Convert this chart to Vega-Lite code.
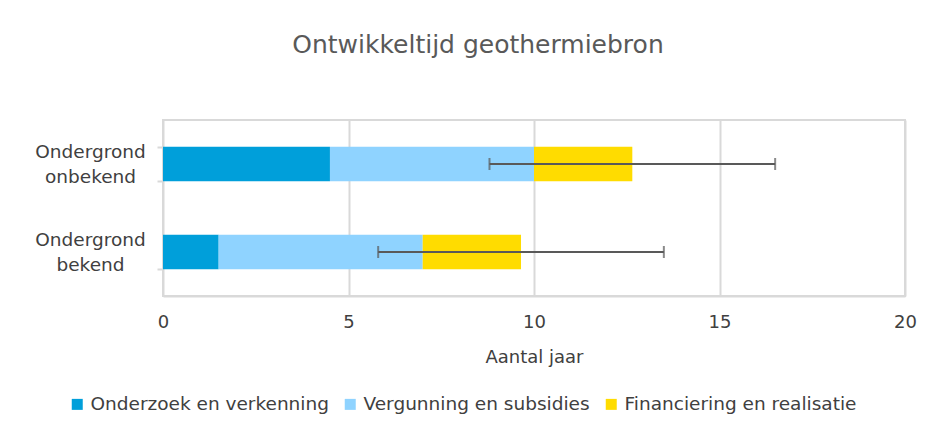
{
  "$schema": "https://vega.github.io/schema/vega-lite/v6.json",
  "width": 742,
  "height": 176,
  "autosize": {"type": "none"},
  "padding": {"left": 163, "top": 120, "right": 29, "bottom": 125},
  "background": "white",
  "config": {
    "font": "DejaVu Sans",
    "view": {"stroke": "#d9d9d9", "strokeWidth": 2}
  },
  "title": {
    "text": "Ontwikkeltijd geothermiebron",
    "fontSize": 25,
    "fontWeight": "normal",
    "color": "#595959",
    "anchor": "middle",
    "dx": -56,
    "offset": 53
  },
  "datasets": {
    "fasen": [
      {"cat": "Ondergrond onbekend", "fase": "Onderzoek en verkenning", "stap": 1, "jaar": 4.5},
      {"cat": "Ondergrond onbekend", "fase": "Vergunning en subsidies", "stap": 2, "jaar": 5.5},
      {"cat": "Ondergrond onbekend", "fase": "Financiering en realisatie", "stap": 3, "jaar": 2.65},
      {"cat": "Ondergrond bekend", "fase": "Onderzoek en verkenning", "stap": 1, "jaar": 1.5},
      {"cat": "Ondergrond bekend", "fase": "Vergunning en subsidies", "stap": 2, "jaar": 5.5},
      {"cat": "Ondergrond bekend", "fase": "Financiering en realisatie", "stap": 3, "jaar": 2.65}
    ],
    "fout": [
      {"cat": "Ondergrond onbekend", "laag": 8.8, "hoog": 16.5},
      {"cat": "Ondergrond bekend", "laag": 5.8, "hoog": 13.5}
    ]
  },
  "layer": [
    {
      "data": {"name": "fasen"},
      "mark": {"type": "bar"},
      "encoding": {
        "y": {
          "field": "cat",
          "type": "nominal",
          "sort": ["Ondergrond onbekend", "Ondergrond bekend"],
          "scale": {"paddingInner": 0.61, "paddingOuter": 0.305},
          "axis": {
            "title": null,
            "domain": false,
            "tickBand": "extent",
            "tickSize": 6,
            "tickColor": "#d9d9d9",
            "tickWidth": 2,
            "labelAlign": "center",
            "labelBaseline": "middle",
            "labelPadding": 67,
            "labelOffset": -13,
            "labelFontSize": 18.5,
            "labelLineHeight": 25,
            "labelColor": "#404040",
            "labelExpr": "split(datum.label, ' ')"
          }
        },
        "x": {
          "field": "jaar",
          "type": "quantitative",
          "stack": "zero",
          "title": "Aantal jaar",
          "scale": {"domain": [0, 20], "nice": false},
          "axis": {
            "title": "Aantal jaar",
            "values": [0, 5, 10, 15, 20],
            "ticks": false,
            "labelFlush": false,
            "domainColor": "#d9d9d9",
            "domainWidth": 2,
            "gridColor": "#d9d9d9",
            "gridWidth": 2,
            "labelFontSize": 18,
            "labelColor": "#404040",
            "labelPadding": 17,
            "titleFontSize": 18,
            "titleFontWeight": "normal",
            "titleColor": "#404040",
            "titlePadding": 17
          }
        },
        "color": {
          "field": "fase",
          "type": "nominal",
          "scale": {
            "domain": ["Onderzoek en verkenning", "Vergunning en subsidies", "Financiering en realisatie"],
            "range": ["#009fda", "#8fd3ff", "#ffdc00"]
          },
          "legend": {
            "title": null,
            "orient": "none",
            "direction": "horizontal",
            "legendX": -95,
            "legendY": 275,
            "symbolType": "square",
            "symbolSize": 121,
            "symbolStrokeWidth": 0,
            "labelFontSize": 18.5,
            "labelLimit": 0,
            "labelColor": "#404040",
            "labelOffset": 4,
            "columnPadding": 12
          }
        },
        "order": {"field": "stap", "type": "quantitative"}
      }
    },
    {
      "data": {"name": "fout"},
      "mark": {"type": "errorbar", "ticks": {"size": 12, "thickness": 2, "color": "#595959"}, "rule": {"strokeWidth": 2, "color": "#595959"}, "color": "#595959"},
      "encoding": {
        "y": {"field": "cat", "type": "nominal", "sort": ["Ondergrond onbekend", "Ondergrond bekend"]},
        "x": {"field": "laag", "type": "quantitative", "title": "Aantal jaar"},
        "x2": {"field": "hoog"}
      }
    }
  ]
}
